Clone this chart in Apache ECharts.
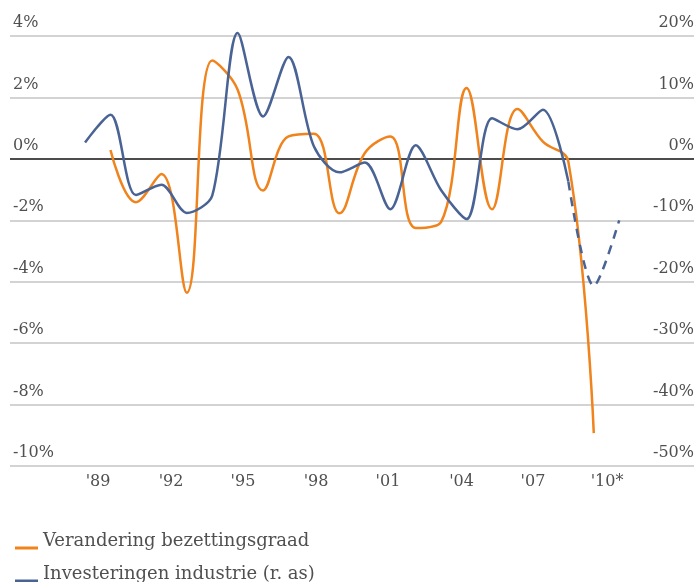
<!DOCTYPE html>
<html>
<head>
<meta charset="utf-8">
<script src="https://cdn.jsdelivr.net/npm/echarts@6/dist/echarts.min.js"></script>
<style>html,body{margin:0;padding:0;background:#fff}#c{width:697px;height:582px}</style>
</head>
<body>
<div id="c"></div>
<script>
// Years for each data point
const blueYears = [1989,1990,1991,1992,1993,1994,1995,1996,1997,1998,1999,2000,2001,2002,2003,2004,2005,2006,2007,2008,2009,2010];
// Investeringen industrie (right axis, %)
const blueValues = [2.66,7.2,-5.9,-4.2,-8.8,-6.0,20.5,6.9,16.6,2.0,-2.2,-0.6,-8.2,2.2,-5.1,-9.8,6.6,4.8,8.0,-3.7,-20.7,-10.0];
// last actual year of the blue series; later years are forecast (dashed)
const blueLastActual = 2008;
const orangeYears = [1990,1991,1992,1993,1994,1995,1996,1997,1998,1999,2000,2001,2002,2003,2004,2005,2006,2007,2008,2009];
// Verandering bezettingsgraad (left axis, %)
const orangeValues = [0.29,-1.41,-0.49,-4.36,3.2,2.25,-1.03,0.73,0.82,-1.77,0.19,0.73,-2.25,-2.05,2.31,-1.64,1.62,0.56,-0.09,-8.93];
// x tick labels and where they sit
const xTickLabels = ["'89","'92","'95","'98","'01","'04","'07","'10*"];
const xTickPos = [1989.51,1992.38,1995.21,1998.08,2000.91,2003.80,2006.61,2009.52];
const leftTicks = [-10,-8,-6,-4,-2,0,2,4];
const rightTicks = [-50,-40,-30,-20,-10,0,10,20];
const seriesNames = ['Verandering bezettingsgraad','Investeringen industrie (r. as)'];

const FONT = 'DejaVu Serif';
const TXT = '#505050';
const ORANGE = '#F0831C';
const BLUE = '#4A6395';

const blueSolid = [], blueDash = [];
blueYears.forEach((y,i)=>{
  if (y <= blueLastActual) blueSolid.push([y, blueValues[i]]);
  if (y >= blueLastActual) blueDash.push([y, blueValues[i]]);
});
const orangeData = orangeYears.map((y,i)=>[y, orangeValues[i]]);

const legendCommon = {
  orient:'horizontal', left:10,
  itemWidth:23, itemHeight:3, icon:'rect', itemGap:8,
  formatter:'{a|{name}}',
  textStyle:{fontFamily:FONT,fontSize:18,color:TXT,
    rich:{a:{fontFamily:FONT,fontSize:18,color:TXT,padding:[0,0,14,0]}}}
};

const chart = echarts.init(document.getElementById('c'), null, {renderer:'canvas'});
chart.setOption({
  animation:false,
  backgroundColor:'#fff',
  grid:{left:10,right:3,top:36,bottom:116,containLabel:false},
  legend:[
    Object.assign({}, legendCommon, {data:[seriesNames[0]], top:527}),
    Object.assign({}, legendCommon, {data:[seriesNames[1]], top:560})
  ],
  xAxis:{
    type:'value', min:1986.05, max:2012.94,
    axisLine:{show:false}, axisTick:{show:false}, splitLine:{show:false},
    axisLabel:{
      customValues:xTickPos,
      formatter:(v)=>{const i=xTickPos.findIndex(p=>Math.abs(p-v)<1e-6);return i>=0?xTickLabels[i]:'';},
      fontFamily:FONT,fontSize:16,color:TXT,margin:8
    }
  },
  yAxis:[{
    type:'value', min:leftTicks[0], max:leftTicks[leftTicks.length-1], interval:2, position:'left',
    axisLine:{show:false}, axisTick:{show:false},
    splitLine:{show:true,lineStyle:{color:leftTicks.map(t=>t===0?'#111':'#c4c4c4'),width:1.5}},
    axisLabel:{inside:true,margin:3,formatter:'{value}%',verticalAlign:'bottom',padding:[0,0,5,0],
      fontFamily:FONT,fontSize:16,color:TXT}
  },{
    type:'value', min:rightTicks[0], max:rightTicks[rightTicks.length-1], interval:10, position:'right',
    axisLine:{show:false}, axisTick:{show:false}, splitLine:{show:false},
    axisLabel:{inside:true,margin:0,formatter:'{value}%',verticalAlign:'bottom',padding:[0,0,5,0],
      fontFamily:FONT,fontSize:16,color:TXT}
  }],
  series:[{
    name:seriesNames[0], type:'line', yAxisIndex:0, data:orangeData,
    smooth:0.4, symbol:'none', clip:false, color:ORANGE,
    lineStyle:{width:2.5,color:ORANGE}, z:3
  },{
    name:seriesNames[1], type:'line', yAxisIndex:1, data:blueSolid,
    smooth:0.3, symbol:'none', clip:false, color:BLUE,
    lineStyle:{width:2.5,color:BLUE}, z:4
  },{
    name:'forecast', type:'line', yAxisIndex:1, data:blueDash,
    smooth:0.3, symbol:'none', clip:false, color:BLUE,
    lineStyle:{width:2.5,color:BLUE,type:[9,7]}, z:4
  }]
});
</script>
</body>
</html>
